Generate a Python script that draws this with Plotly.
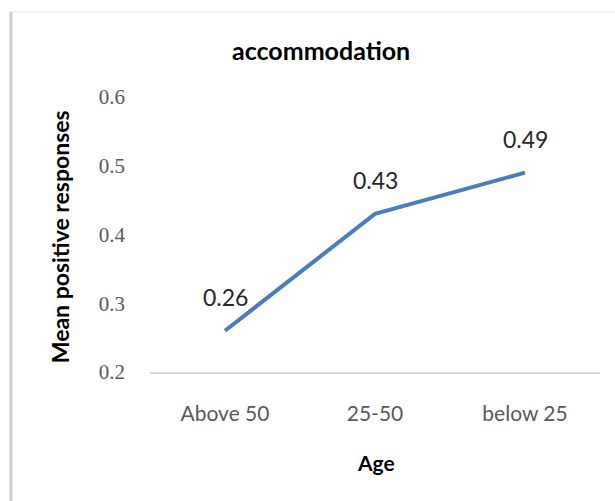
import plotly.graph_objects as go

# Mean share of positive responses about accommodation, by age group
age_groups = ["Above 50", "25-50", "below 25"]
mean_positive = [0.26, 0.43, 0.49]
y_ticks = [0.2, 0.3, 0.4, 0.5, 0.6]

LINE_BLUE = "#4a7ebb"
TEXT_GRAY = "#595959"
SANS = "Lato"

fig = go.Figure()
fig.add_trace(go.Scatter(
    x=age_groups,
    y=mean_positive,
    mode="lines",
    line=dict(color=LINE_BLUE, width=4),
    hoverinfo="skip",
    showlegend=False,
))

# value labels above each point
for cat, val in zip(age_groups, mean_positive):
    fig.add_annotation(
        x=cat, y=val, text=f"{val:.2f}", showarrow=False,
        xanchor="center", yanchor="middle",
        yshift=34, font=dict(family=SANS, size=23, color="#262626"),
    )

# chart title and axis titles
fig.add_annotation(
    x=0.38, y=1.17, xref="paper", yref="paper", text="<b>accommodation</b>",
    xanchor="center", yanchor="middle",
    showarrow=False, font=dict(family=SANS, size=25, color="#000000"),
)
fig.add_annotation(
    x=-0.2, y=0.49, xref="paper", yref="paper", text="<b>Mean positive responses</b>",
    xanchor="center", yanchor="middle",
    textangle=-90, showarrow=False, font=dict(family=SANS, size=23, color="#000000"),
)
fig.add_annotation(
    x=0.502, y=-0.33, xref="paper", yref="paper", text="<b>Age</b>",
    xanchor="center", yanchor="middle",
    showarrow=False, font=dict(family=SANS, size=21, color="#000000"),
)

# chart-area frame: left and top edges
fig.add_shape(type="line", xref="paper", yref="paper",
              x0=-0.309, x1=-0.309, y0=1.31, y1=-0.47,
              line=dict(color="#cfcfcf", width=3))
fig.add_shape(type="line", xref="paper", yref="paper",
              x0=-0.309, x1=1.04, y0=1.31, y1=1.31,
              line=dict(color="#ececec", width=1))

fig.update_layout(
    width=615, height=501,
    margin=dict(l=150, r=15, t=97, b=129, pad=0),
    paper_bgcolor="white", plot_bgcolor="white",
    xaxis=dict(
        type="category", range=[-0.5, 2.5],
        showgrid=False, zeroline=False,
        showline=True, linecolor="#d9d9d9", linewidth=2,
        ticks="", ticklabelstandoff=22,
        tickfont=dict(family=SANS, size=21, color=TEXT_GRAY),
        fixedrange=True,
    ),
    yaxis=dict(
        range=[0.2, 0.6], tickvals=y_ticks,
        ticktext=[f"{v:.1f}" for v in y_ticks],
        showgrid=False, zeroline=False, showline=False,
        ticks="", ticklabelstandoff=24,
        tickfont=dict(family="Liberation Serif", size=21, color=TEXT_GRAY),
        fixedrange=True,
    ),
)

fig.write_html("out.html")
